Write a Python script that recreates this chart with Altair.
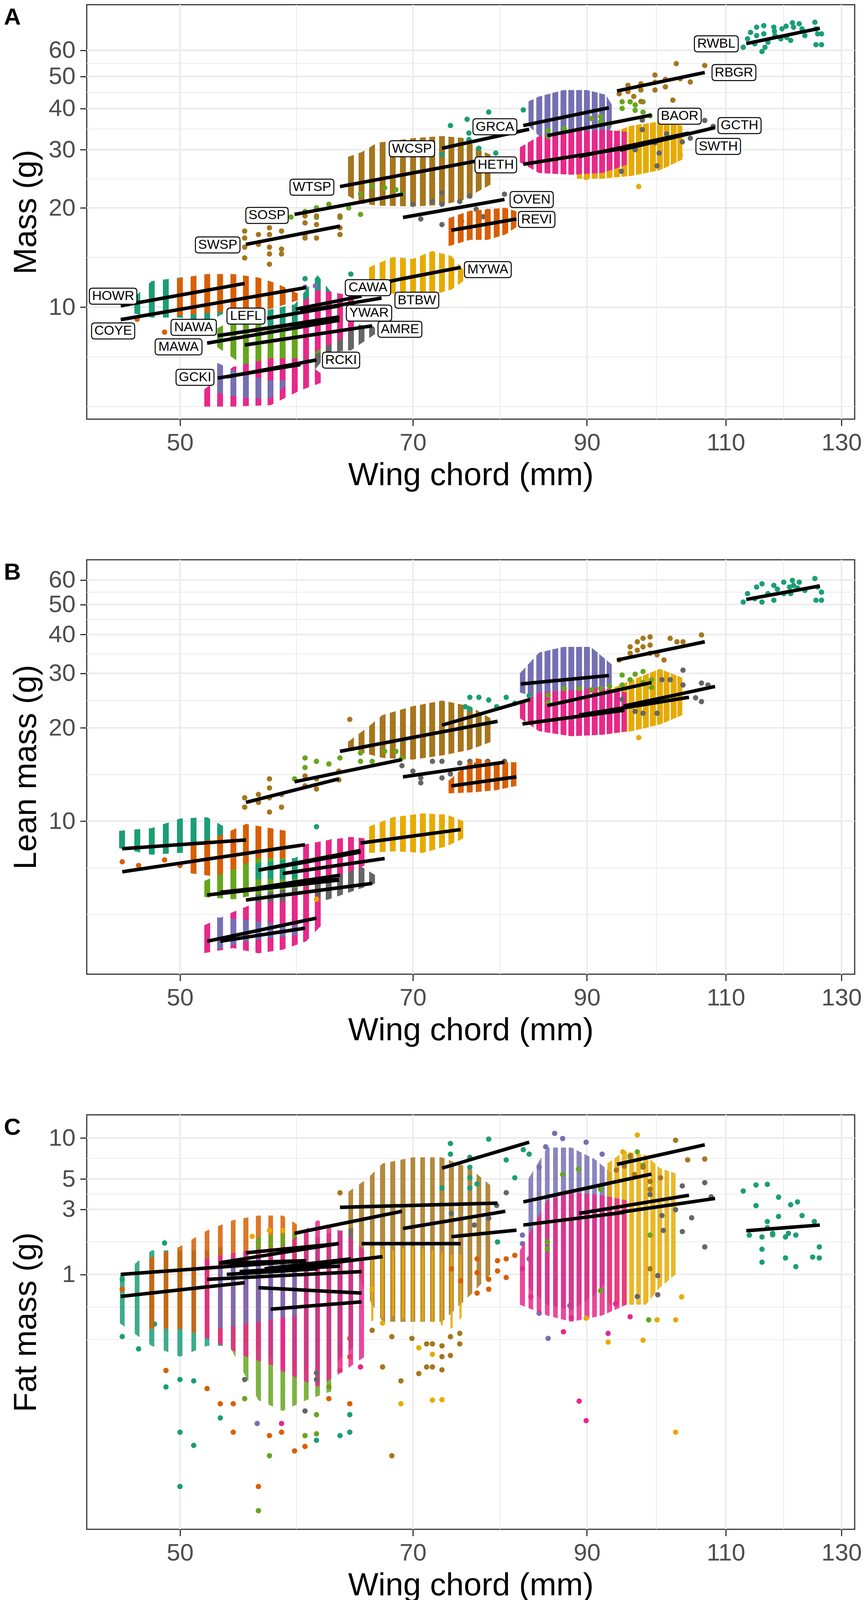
import math
import altair as alt
import pandas as pd

FONT = "Liberation Sans"
GRID = "#EBEBEB"
PALETTE = {"teal": "#1B9E77", "orange": "#D95F02", "purple": "#7570B3", "pink": "#E7298A",
           "green": "#66A61E", "yellow": "#E6AB02", "brown": "#A6761D", "grey": "#666666"}
SPECIES_COLOR = {
    "HOWR": "teal", "LEFL": "teal", "WCSP": "teal", "RWBL": "teal",
    "COYE": "orange", "REVI": "orange", "NAWA": "orange",
    "RCKI": "purple", "BTBW": "purple", "GRCA": "purple",
    "GCKI": "pink", "CAWA": "pink", "HETH": "pink",
    "MAWA": "green", "SOSP": "green", "BAOR": "green",
    "YWAR": "yellow", "MYWA": "yellow", "SWTH": "yellow",
    "SWSP": "brown", "WTSP": "brown", "RBGR": "brown",
    "AMRE": "grey", "OVEN": "grey", "GCTH": "grey",
}

X_DOMAIN = [43.7, 132.5]
X_TICKS = [50, 70, 90, 110, 130]
X_MINOR = [59.16, 79.37, 99.50, 119.58]
Y_TICKS_AB = [10, 20, 30, 40, 50, 60]
Y_MINOR_AB = [5, 7.07, 14.14, 24.49, 34.64, 44.72, 54.77]
Y_TICKS_C = [1, 3, 5, 10]
Y_MINOR_C = [0.333, 0.577, 1.732, 3.873, 7.071]
Y_DOMAIN_A = [4.58, 82.5]
Y_DOMAIN_B = [3.21, 69.7]
Y_DOMAIN_C = [0.0136, 14.75]

# ---------------- Panel A : total mass ----------------
# ("cols", species, wing chords spanned, lower masses, upper masses) -> dense columns of birds
# ("pts", species, [(wing, mass), ...]) -> individual birds
A_DRAW = [
    ("cols", "GRCA", [82.7, 84, 87, 90, 92.5, 93.3], [35.5, 33.0, 31.0, 31.5, 32.0, 35.5], [42.0, 43.5, 45.5, 45.5, 44.0, 41.0]),
    ("cols", "SWTH", [88.7, 92, 96, 100, 103.3], [24.5, 24.5, 25.0, 26.0, 28.0], [30.5, 33.0, 35.5, 36.5, 35.5]),
    ("cols", "HETH", [81.7, 84, 88, 92, 95.3], [27.5, 25.5, 25.2, 25.5, 27.0], [30.5, 33.0, 34.0, 34.5, 34.0]),
    ("pts", "SWTH", [(89.9, 24.7), (97.0, 23.2), (103.0, 28.9)]),
    ("pts", "BAOR", [(85.1, 34.4), (85.1, 32.9), (87.1, 34.8), (90.6, 37.3), (91.8, 37.8), (91.8, 36.5), (94.7, 41.9),
                     (94.7, 40.0), (95.8, 41.9), (96.5, 41.0), (97.6, 41.9), (97.6, 39.0), (96.5, 39.5), (98.6, 38.0), (93.0, 36.0)]),
    ("pts", "GCTH", [(94.6, 25.8), (97.5, 36.9), (97.5, 34.5), (99.6, 26.8), (99.9, 29.3), (99.3, 31.5), (103.3, 31.7),
                     (106.7, 36.8), (108.0, 35.3), (101.0, 33.5), (104.5, 32.5), (96.5, 30.0)]),
    ("pts", "RBGR", [(94.3, 44.3), (95.5, 47.0), (95.5, 45.0), (96.3, 43.5), (97.3, 47.5), (97.3, 45.5), (97.3, 42.0),
                     (99.3, 50.5), (99.3, 48.0), (99.3, 45.5), (100.8, 49.0), (100.8, 46.5), (101.9, 42.4), (102.4, 54.7),
                     (103.0, 49.2), (104.5, 48.1), (106.7, 54.0)]),
    ("pts", "RWBL", [(112.8, 61.3), (113.5, 65.0), (114.7, 62.8), (115.0, 70.5), (115.0, 66.5), (115.9, 59.5),
                     (116.2, 71.3), (116.2, 67.3), (116.4, 61.3), (116.9, 63.5), (117.9, 70.5), (118.1, 66.5),
                     (119.1, 65.0), (119.3, 69.7), (120.1, 65.7), (120.8, 64.3), (121.1, 72.7), (121.3, 70.5),
                     (122.3, 72.2), (122.8, 69.7), (123.3, 66.5), (125.1, 73.0), (125.3, 69.7), (125.6, 67.3),
                     (126.3, 67.3), (125.3, 62.4), (126.3, 62.4), (114.0, 68.0), (118.0, 68.5), (120.0, 71.0)]),
    ("cols", "WTSP", [63.7, 65, 66.5, 70, 73, 75.5, 77, 78.3], [21.8, 20.6, 20.3, 20.2, 20.4, 21.2, 22.5, 23.5],
     [28.5, 29.5, 31.5, 32.5, 33.0, 32.5, 30.0, 29.0]),
    ("pts", "WCSP", [(73.9, 35.5), (75.7, 37.1), (75.9, 33.7), (75.9, 32.2), (77.0, 30.3), (78.1, 39.0), (82.1, 39.6),
                     (78.9, 29.3), (73.0, 29.0)]),
    ("pts", "SOSP", [(58.7, 18.75), (59.9, 19.5), (60.9, 20.0), (60.9, 18.7), (62.0, 20.5), (63.0, 18.7), (63.8, 20.0),
                     (64.9, 22.0), (64.9, 19.1), (66.0, 23.2), (67.2, 23.0), (68.3, 22.7), (68.9, 22.0)]),
    ("pts", "OVEN", [(70.0, 20.5), (70.8, 18.5), (72.0, 20.9), (73.0, 22.2), (73.0, 20.5), (73.0, 17.8), (74.9, 20.9),
                     (75.1, 18.2), (76.0, 21.7), (76.7, 19.8), (78.0, 19.5), (79.9, 22.0), (77.5, 18.8)]),
    ("cols", "REVI", [73.7, 76, 78, 80, 81.3], [15.3, 16.0, 16.0, 16.6, 17.5], [18.6, 19.6, 19.8, 20.0, 19.5]),
    ("pts", "SWSP", [(54.9, 17.0), (54.9, 16.2), (54.9, 15.2), (54.9, 14.1), (56.0, 16.6), (56.0, 15.5), (56.9, 17.4),
                     (56.9, 16.6), (56.9, 15.2), (56.9, 14.5), (56.9, 13.5), (57.9, 17.0), (57.9, 15.0), (57.9, 14.5),
                     (59.9, 18.9), (59.9, 18.0), (59.9, 16.6), (59.9, 16.2), (60.9, 18.9), (60.9, 17.8), (60.9, 16.2),
                     (63.0, 18.9), (63.0, 17.4), (63.0, 16.6)]),
    ("cols", "MYWA", [65.7, 68, 70, 72, 74, 75.3], [11.0, 11.0, 11.0, 10.9, 11.3, 12.0], [13.2, 14.2, 14.0, 14.8, 14.3, 13.0]),
    ("cols", "HOWR", [46.7, 48, 50, 52, 53.3], [9.6, 9.3, 9.3, 9.0, 9.6], [10.6, 12.0, 12.3, 12.5, 12.3]),
    ("cols", "COYE", [49.7, 52, 54, 56, 57.5, 59.3], [9.4, 9.6, 9.7, 9.7, 10.0, 10.5], [12.2, 12.6, 12.6, 12.3, 11.8, 11.0]),
    ("pts", "COYE", [(45.9, 8.85), (47.0, 9.2), (48.9, 8.4)]),
    ("cols", "AMRE", [54.7, 57, 60, 62, 64, 66.3], [7.0, 6.3, 6.0, 7.3, 7.4, 8.3], [7.8, 8.8, 9.8, 10.0, 9.0, 8.6]),
    ("cols", "MAWA", [52.7, 55, 58, 61.3], [7.6, 6.6, 6.8, 7.3], [8.6, 9.6, 9.6, 9.4]),
    ("cols", "LEFL", [56.7, 59, 61, 63.3], [8.8, 8.6, 8.5, 8.6], [9.8, 10.2, 12.5, 10.0]),
    ("cols", "CAWA", [59.7, 61, 63, 64.3], [6.8, 7.4, 8.0, 8.6], [10.4, 11.3, 11.0, 10.8]),
    ("cols", "GCKI", [51.7, 54, 57, 59.5, 61.3], [5.0, 5.0, 5.05, 5.6, 5.9], [5.6, 6.6, 7.0, 7.0, 6.3]),
    ("cols", "RCKI", [52.7, 55, 57, 58.3], [5.5, 5.3, 5.3, 5.8], [6.8, 6.2, 6.0, 6.0]),
    ("pts", "BTBW", [(59.9, 11.5), (60.8, 11.6)]),
    ("pts", "LEFL", [(64.0, 12.6), (59.9, 12.2)]),
    ("pts", "AMRE", [(66.0, 8.6)]),
]
A_LINES = {
    "HOWR": (45.9, 10.1, 54.9, 11.8), "COYE": (45.9, 9.17, 60.0, 11.47), "MAWA": (52.0, 7.78, 62.95, 9.13),
    "NAWA": (52.8, 8.2, 62.0, 9.2), "YWAR": (55.5, 8.5, 62.95, 9.35), "LEFL": (56.7, 9.25, 63.0, 10.1),
    "CAWA": (59.1, 9.86, 65.0, 10.8), "BTBW": (59.5, 9.7, 66.9, 10.66), "AMRE": (54.9, 7.68, 66.0, 8.78),
    "GCKI": (52.8, 6.10, 59.5, 6.70), "RCKI": (53.5, 6.15, 60.9, 6.92), "SWSP": (55.0, 15.5, 63.0, 17.6),
    "SOSP": (59.0, 19.1, 69.0, 22.0), "WTSP": (63.0, 23.2, 77.0, 27.8), "WCSP": (73.0, 30.3, 82.8, 34.6),
    "OVEN": (69.0, 18.7, 79.9, 21.2), "REVI": (74.0, 17.1, 81.3, 18.5), "MYWA": (66.0, 11.7, 75.0, 13.2),
    "GRCA": (82.1, 35.5, 92.9, 40.2), "BAOR": (85.0, 33.1, 98.8, 38.2), "HETH": (82.1, 27.1, 95.0, 30.3),
    "SWTH": (89.0, 28.6, 104.3, 33.7), "GCTH": (94.4, 29.9, 108.3, 35.0), "RBGR": (94.0, 45.2, 106.7, 51.4),
    "RWBL": (113.3, 62.9, 126.0, 70.0),
}
A_LABELS = {
    "HOWR": (45.4, 10.8), "COYE": (45.4, 8.47), "NAWA": (51.0, 8.69), "MAWA": (49.9, 7.58), "LEFL": (55.0, 9.40),
    "GCKI": (51.1, 6.13), "RCKI": (63.1, 6.91), "CAWA": (65.6, 11.46), "BTBW": (70.4, 10.5), "YWAR": (65.7, 9.6),
    "AMRE": (68.7, 8.57), "SWSP": (52.8, 15.44), "SOSP": (56.7, 18.97), "WTSP": (60.5, 23.1), "WCSP": (69.9, 30.2),
    "HETH": (78.9, 27.0), "GRCA": (78.8, 35.2), "OVEN": (83.1, 21.2), "REVI": (83.7, 18.45), "MYWA": (78.0, 13.0),
    "RWBL": (108.5, 62.8), "RBGR": (111.3, 51.4), "BAOR": (102.9, 37.9), "GCTH": (112.2, 35.5), "SWTH": (108.8, 30.7),
}

# ---------------- Panel B : lean mass ----------------
B_DRAW = [
    ("cols", "GRCA", [81.7, 84, 87, 90.5, 93.3], [26.0, 25.0, 25.5, 26.0, 27.5], [30.0, 35.0, 36.5, 36.5, 32.0]),
    ("cols", "SWTH", [88.7, 92, 96, 100, 103.3], [19.0, 19.0, 19.5, 20.5, 22.0], [23.5, 26.0, 28.5, 31.0, 29.0]),
    ("cols", "HETH", [81.7, 84, 88, 92, 95.3], [21.5, 19.5, 18.8, 19.0, 19.5], [24.0, 26.0, 26.5, 27.0, 26.0]),
    ("pts", "BAOR", [(85.1, 24.1), (85.1, 25.5), (87.1, 26.8), (89.0, 26.8), (90.6, 26.5), (91.8, 26.8), (93.0, 27.2),
                     (94.7, 29.6), (94.7, 27.5), (95.8, 28.6), (96.5, 29.8), (97.6, 30.4), (97.6, 28.0), (98.8, 28.6), (98.8, 27.0)]),
    ("pts", "GCTH", [(94.7, 24.7), (96.5, 22.6), (97.6, 22.3), (99.6, 22.3), (100.3, 28.6), (101.5, 28.6), (103.4, 30.7),
                     (103.4, 27.5), (105.3, 25.0), (106.2, 27.9), (106.2, 24.3), (107.2, 27.5)]),
    ("pts", "SWTH", [(97.0, 18.6)]),
    ("pts", "RBGR", [(94.3, 33.1), (95.8, 36.5), (95.8, 34.8), (96.8, 37.9), (96.8, 35.6), (97.6, 38.9), (97.6, 36.5),
                     (98.6, 39.3), (98.6, 37.0), (98.6, 34.8), (99.6, 34.4), (100.6, 33.1), (101.5, 38.9), (102.5, 37.9),
                     (103.4, 37.9), (106.2, 39.9)]),
    ("pts", "RWBL", [(112.8, 50.9), (113.5, 54.2), (115.0, 56.9), (115.9, 58.3), (115.9, 50.9), (116.9, 54.2),
                     (117.9, 57.6), (119.6, 59.0), (119.6, 54.2), (120.6, 56.9), (121.1, 59.8), (121.3, 57.6),
                     (122.3, 59.0), (123.3, 55.5), (125.1, 60.6), (125.6, 56.9), (126.3, 54.8), (125.3, 51.6),
                     (126.3, 51.6), (114.7, 52.2), (120.8, 54.2), (117.9, 51.6), (118.5, 56.0), (122.0, 56.5)]),
    ("cols", "WTSP", [63.7, 65.5, 67, 70, 73, 76, 78.3], [17.0, 16.5, 16.0, 15.8, 16.3, 17.0, 18.0],
     [18.0, 20.0, 22.0, 23.5, 24.5, 23.5, 21.5]),
    ("pts", "WTSP", [(63.9, 21.3)]),
    ("pts", "WCSP", [(76.0, 25.1), (77.0, 25.1), (78.1, 24.6), (80.1, 25.1), (81.1, 24.0), (79.0, 23.4), (75.5, 23.4),
                     (82.8, 25.4), (76.0, 23.0)]),
    ("pts", "SOSP", [(59.0, 13.7), (59.9, 14.9), (59.9, 16.0), (60.9, 15.6), (62.0, 15.3), (63.0, 16.0), (64.9, 16.6),
                     (64.9, 15.6), (66.0, 15.6), (67.2, 16.8), (68.3, 16.8), (68.9, 16.0)]),
    ("pts", "OVEN", [(68.9, 15.1), (70.0, 14.5), (70.8, 13.8), (70.8, 13.3), (72.0, 15.6), (73.0, 13.8), (73.0, 15.6),
                     (73.9, 14.2), (74.9, 15.4), (76.0, 15.6), (76.7, 15.2), (78.0, 15.6), (79.9, 15.6), (77.0, 14.3)]),
    ("cols", "REVI", [73.7, 76.5, 79, 81.3], [12.3, 12.4, 12.6, 13.0], [13.5, 16.0, 15.5, 15.5]),
    ("pts", "SWSP", [(54.9, 11.9), (54.9, 11.1), (56.0, 11.5), (56.0, 12.2), (56.9, 13.7), (56.9, 12.8), (56.9, 11.9),
                     (56.9, 10.7), (57.9, 12.2), (57.9, 11.1), (59.9, 14.0), (59.9, 13.0), (60.9, 13.7), (60.9, 12.7),
                     (62.9, 14.5), (62.9, 13.6)]),
    ("cols", "MYWA", [65.7, 68, 71, 73.5, 75.3], [7.9, 8.0, 7.9, 8.3, 8.8], [9.6, 10.3, 10.6, 10.5, 10.0]),
    ("cols", "HOWR", [45.7, 48, 50, 52, 53.3], [8.2, 7.8, 7.9, 8.0, 8.4], [9.3, 9.5, 10.2, 10.3, 9.6]),
    ("cols", "COYE", [50.7, 53, 55, 57, 58.3], [6.8, 6.6, 6.9, 7.3, 7.6], [8.3, 9.0, 9.8, 9.5, 9.3]),
    ("pts", "COYE", [(46.0, 7.4), (47.1, 7.2), (48.9, 7.5), (50.0, 7.2)]),
    ("cols", "AMRE", [55.7, 59, 62, 64.5, 66.3], [5.4, 5.3, 5.6, 6.0, 6.3], [6.5, 7.0, 7.0, 7.3, 6.7]),
    ("cols", "MAWA", [51.7, 54, 56, 58, 60.3], [5.7, 5.6, 5.8, 6.0, 6.2], [6.4, 7.0, 7.6, 7.6, 7.6]),
    ("cols", "LEFL", [55.7, 59, 62.3], [6.5, 6.5, 6.9], [7.3, 7.6, 8.8]),
    ("pts", "LEFL", [(60.9, 9.6)]),
    ("cols", "CAWA", [59.7, 62, 64, 65.3], [6.5, 6.6, 6.9, 7.2], [8.4, 8.7, 8.9, 8.8]),
    ("cols", "GCKI", [51.7, 54, 56, 58, 60, 61.3], [3.75, 3.9, 3.75, 3.85, 4.1, 4.6], [4.6, 5.1, 5.5, 5.5, 6.2, 5.6]),
    ("cols", "RCKI", [52.7, 55, 57, 59.3], [3.85, 4.1, 4.2, 4.3], [4.9, 4.8, 4.7, 4.6]),
    ("pts", "YWAR", [(60.9, 5.6)]),
]
B_LINES = {
    "HOWR": (46.0, 8.15, 55.0, 8.7), "COYE": (46.0, 6.87, 59.9, 8.4), "SWSP": (55.0, 11.5, 62.9, 13.7),
    "SOSP": (59.0, 13.4, 68.9, 15.8), "WTSP": (63.0, 16.8, 79.1, 21.0), "OVEN": (69.0, 13.9, 79.9, 15.5),
    "REVI": (74.0, 13.0, 81.3, 13.9), "MYWA": (64.9, 8.5, 75.0, 9.4), "WCSP": (73.0, 20.4, 82.9, 24.7),
    "GRCA": (81.8, 27.7, 92.9, 29.5), "BAOR": (85.0, 23.6, 98.8, 28.0), "HETH": (82.0, 20.6, 95.0, 22.8),
    "SWTH": (89.0, 22.0, 104.3, 25.1), "GCTH": (94.9, 23.5, 108.3, 27.2), "RBGR": (94.0, 33.1, 106.7, 37.9),
    "RWBL": (113.3, 51.9, 126.0, 57.4), "LEFL": (56.0, 6.95, 64.9, 8.05), "CAWA": (56.9, 7.03, 64.9, 7.95),
    "BTBW": (58.0, 6.78, 67.2, 7.58), "MAWA": (52.0, 5.78, 62.9, 6.46), "NAWA": (53.0, 5.9, 62.9, 6.5),
    "YWAR": (56.0, 6.1, 63.0, 6.7), "AMRE": (55.0, 5.57, 66.0, 6.3), "GCKI": (53.0, 4.10, 59.9, 4.52),
    "RCKI": (52.0, 4.10, 60.9, 4.87),
}

# ---------------- Panel C : fat mass ----------------
C_DRAW = [
    ("pts", "RWBL", [(112.8, 4.08), (114.9, 4.52), (116.8, 4.57), (118.7, 3.68), (120.8, 3.24), (122.0, 3.4),
                     (114.9, 3.19), (116.8, 2.44), (118.7, 2.66), (122.8, 2.7), (125.0, 2.44), (113.8, 1.94),
                     (115.9, 1.88), (117.7, 2.0), (119.9, 1.88), (121.7, 1.94), (115.9, 1.53), (115.9, 1.23),
                     (119.9, 1.32), (121.7, 1.14), (124.7, 1.34), (125.9, 1.59), (125.9, 1.32), (117.7, 1.95),
                     (120.4, 2.0), (116.8, 2.2)]),
    ("cols", "GRCA", [82.7, 85, 88, 91, 93.3], [0.8, 0.6, 0.55, 0.7, 1.0], [5.0, 8.5, 8.5, 7.0, 5.5]),
    ("pts", "GRCA", [(85.9, 10.8), (86.9, 9.9), (89.9, 9.3), (92.0, 7.6), (84.0, 0.52), (85.1, 0.34), (87.8, 0.59),
                     (82.0, 1.68), (82.0, 1.94), (82.8, 1.3), (84.0, 6.1), (84.8, 8.6)]),
    ("cols", "SWTH", [92.7, 95, 98, 100, 102.3], [0.6, 0.6, 0.6, 0.8, 1.0], [6.5, 8.0, 7.5, 6.0, 5.5]),
    ("cols", "HETH", [81.7, 85, 88, 92, 95.3], [0.6, 0.5, 0.45, 0.5, 0.6], [1.5, 3.5, 4.0, 3.8, 3.5]),
    ("pts", "HETH", [(89.0, 0.118), (89.9, 0.085), (87.0, 0.38), (88.0, 0.48), (83.0, 0.686), (92.8, 0.37),
                     (95.8, 0.49), (93.8, 0.61), (82.0, 1.1)]),
    ("pts", "SWTH", [(102.3, 0.070), (89.9, 0.478), (92.8, 0.32), (97.6, 0.33), (102.3, 0.465), (103.2, 0.686),
                     (99.6, 0.465), (96.8, 10.5), (94.8, 7.9)]),
    ("pts", "BAOR", [(96.8, 7.9), (95.8, 7.2), (97.6, 6.3), (86.9, 5.4), (88.9, 5.9), (91.8, 4.2), (85.0, 1.54),
                     (85.0, 1.73), (91.8, 0.76), (98.6, 1.94), (98.4, 0.465)]),
    ("pts", "GCTH", [(106.7, 4.7), (107.7, 3.7), (103.3, 4.45), (100.3, 2.7), (100.5, 2.1), (98.6, 3.85),
                     (103.3, 2.06), (106.7, 1.59), (99.7, 0.98), (99.7, 0.71), (96.8, 0.69), (102.3, 2.98), (104.7, 2.6)]),
    ("pts", "RBGR", [(93.9, 5.81), (95.8, 7.4), (97.6, 6.1), (98.6, 4.8), (98.6, 4.2), (102.3, 9.6), (104.1, 6.9),
                     (106.7, 7.0), (98.6, 1.1), (100.1, 5.1), (95.0, 6.2), (96.4, 5.4)]),
    ("cols", "WTSP", [63.7, 65.5, 67, 70, 73, 76, 78.3], [1.5, 0.7, 0.45, 0.45, 0.45, 0.7, 1.0], [4.0, 5.0, 6.5, 7.2, 7.2, 6.0, 4.5]),
    ("pts", "WTSP", [(67.0, 0.21), (67.9, 0.047), (68.8, 0.166), (70.6, 0.188), (71.4, 0.21), (72.0, 0.21), (69.9, 0.34),
                     (71.4, 0.31), (73.0, 0.30), (67.9, 0.35), (66.0, 0.39), (72.0, 0.31), (73.0, 0.25), (73.9, 0.255),
                     (74.9, 0.31), (73.0, 0.2), (73.9, 0.35), (74.9, 0.37), (63.0, 3.96)]),
    ("cols", "MYWA", [65.7, 68, 70, 72, 74, 75.3], [0.45, 0.5, 0.45, 0.45, 0.4, 0.5], [1.6, 1.5, 1.6, 1.5, 1.4, 1.4]),
    ("pts", "MYWA", [(68.8, 0.113), (72.0, 0.12), (70.6, 0.29), (72.0, 0.26), (66.0, 0.78), (67.0, 0.44), (73.0, 0.121)]),
    ("pts", "WCSP", [(73.9, 9.1), (73.9, 7.6), (78.1, 9.8), (80.1, 6.9), (81.1, 5.1), (82.1, 8.2), (82.8, 7.6), (76.0, 7.2),
                     (76.0, 6.1), (76.0, 5.1), (76.8, 4.6), (76.0, 4.3), (73.0, 4.3), (79.1, 1.73)]),
    ("pts", "OVEN", [(78.1, 2.58), (80.1, 3.97), (79.0, 3.2), (76.5, 2.3), (74.0, 2.8)]),
    ("pts", "REVI", [(76.8, 1.3), (76.8, 1.03), (76.8, 0.73), (78.1, 0.92), (78.1, 0.78), (79.1, 1.26), (79.1, 1.06),
                     (80.1, 1.3), (80.1, 0.95), (81.1, 1.38), (74.0, 1.1), (75.0, 0.9)]),
    ("cols", "HOWR", [45.7, 48, 50, 52, 53.3], [0.45, 0.3, 0.25, 0.3, 0.3], [0.95, 1.5, 1.5, 1.5, 1.6]),
    ("pts", "HOWR", [(46.0, 0.92), (46.0, 0.351), (47.1, 0.285), (48.2, 0.433), (49.0, 0.150), (50.0, 0.170),
                     (51.0, 0.166), (50.0, 0.070), (51.0, 0.056), (53.0, 0.089), (48.9, 1.70), (50.0, 0.028)]),
    ("cols", "COYE", [47.7, 50, 52, 54, 56, 58, 59.3], [0.4, 0.4, 0.35, 0.3, 0.35, 0.4, 0.45], [1.3, 1.6, 2.1, 2.5, 2.7, 2.7, 2.3]),
    ("pts", "COYE", [(49.0, 0.198), (52.0, 0.146), (53.0, 0.113), (54.0, 0.113), (54.0, 0.070), (56.9, 0.066),
                     (57.9, 0.07), (59.0, 0.051), (62.0, 0.15), (62.0, 0.123), (63.9, 0.34), (63.9, 0.25), (63.9, 0.113),
                     (63.0, 0.28), (63.0, 0.198), (56.0, 0.028), (46.0, 0.78), (59.9, 0.055)]),
    ("cols", "AMRE", [55.7, 59, 62, 64.3], [0.3, 0.2, 0.2, 0.3], [1.2, 1.6, 2.0, 2.2]),
    ("cols", "MAWA", [53.7, 56, 58, 60, 62.3], [0.3, 0.12, 0.1, 0.12, 0.14], [1.0, 1.9, 2.0, 2.0, 1.7]),
    ("pts", "MAWA", [(56.0, 0.0186), (56.9, 0.047), (54.9, 0.123), (59.9, 0.066), (60.9, 0.094), (60.9, 0.068)]),
    ("cols", "LEFL", [56.7, 60, 63, 64.3], [0.25, 0.22, 0.25, 0.3], [1.0, 1.4, 2.0, 1.8]),
    ("pts", "LEFL", [(63.9, 0.070), (63.0, 0.066), (63.9, 0.094), (60.9, 0.061)]),
    ("cols", "CAWA", [57.7, 61, 63.5, 65.3], [0.2, 0.15, 0.2, 0.25], [1.5, 2.5, 2.0, 1.5]),
    ("cols", "GCKI", [51.7, 55, 58.3], [0.35, 0.25, 0.2], [1.3, 1.5, 1.6]),
    ("cols", "RCKI", [52.7, 56, 59.3], [0.4, 0.45, 0.5], [1.1, 1.3, 1.2]),
    ("pts", "RCKI", [(55.9, 0.081)]),
    ("pts", "GCKI", [(57.9, 0.081), (64.9, 0.21)]),
    ("pts", "AMRE", [(54.9, 0.17), (59.9, 0.10), (60.9, 0.19), (60.9, 0.17)]),
    ("pts", "YWAR", [(56.9, 2.1), (58.0, 2.1), (55.5, 1.9)]),
]
C_LINES = {
    "COYE": (45.9, 1.0, 60.0, 1.26), "HOWR": (45.9, 0.69, 54.9, 0.87), "MAWA": (52.0, 0.92, 65.0, 1.05),
    "NAWA": (52.9, 1.21, 59.9, 1.26), "LEFL": (53.0, 1.22, 62.8, 1.68), "SWSP": (55.0, 1.44, 62.9, 1.68),
    "CAWA": (56.5, 1.1, 64.0, 1.3), "BTBW": (58.0, 1.1, 67.0, 1.35), "YWAR": (54.5, 1.05, 63.0, 1.15),
    "AMRE": (56.0, 0.80, 65.0, 0.73), "GCKI": (57.0, 0.557, 65.0, 0.63), "RCKI": (53.5, 1.0, 61.0, 1.1),
    "SOSP": (59.0, 2.0, 68.9, 2.9), "WTSP": (63.0, 3.1, 79.1, 3.33), "MYWA": (65.0, 1.68, 75.0, 1.68),
    "OVEN": (69.0, 2.17, 80.0, 2.9), "REVI": (74.0, 1.89, 81.3, 2.11), "WCSP": (73.0, 6.0, 82.8, 9.3),
    "GRCA": (82.1, 3.4, 92.9, 4.65), "BAOR": (85.0, 3.72, 98.8, 5.43), "RBGR": (94.0, 6.4, 106.7, 8.9),
    "HETH": (82.1, 2.3, 95.0, 2.85), "SWTH": (89.0, 2.8, 104.3, 3.8), "GCTH": (94.4, 2.85, 108.3, 3.6),
    "RWBL": (113.3, 2.09, 126.0, 2.3),
}

# ---------------- helpers / styling ----------------
W, H = 1966, 1061
SPACING = 170
DOT_BY_PANEL = {"A": 15.0, "B": 15.0, "C": 12.5}
NARROW_COLUMNS = {("C", "MYWA"): 6.0}   # species whose dots sit inside another species' columns
PX_PER_LN = W / math.log(X_DOMAIN[1] / X_DOMAIN[0])
TRANSP = "rgba(255,255,255,0)"
LABEL_FS = 34
CHAR_W = {"A": 667, "B": 667, "C": 722, "E": 667, "G": 778, "H": 722, "I": 278, "K": 667, "L": 556, "M": 833,
          "N": 722, "O": 778, "P": 667, "R": 722, "S": 667, "T": 611, "V": 667, "W": 944, "Y": 667}
UNIT = 50.0  # symbol size 10000 -> 50 px per path unit


def column_fill(xs, color, dot):
    """Striped fill: one dot-wide stripe at every whole millimetre of wing chord."""
    l0, l1 = math.log(xs[0]), math.log(xs[-1])
    span = (l1 - l0) * PX_PER_LN
    half = dot / 2.0 / span
    iv = []
    for m in range(math.ceil(xs[0]), math.floor(xs[-1]) + 1):
        t = (math.log(m) - l0) / (l1 - l0)
        a, b = max(0.0, t - half), min(1.0, t + half)
        if iv and a <= iv[-1][1]:
            iv[-1][1] = b
        else:
            iv.append([a, b])
    stops = [alt.GradientStop(offset=0, color=TRANSP)]
    for a, b in iv:
        stops += [alt.GradientStop(offset=round(a, 5), color=TRANSP), alt.GradientStop(offset=round(a, 5), color=color),
                  alt.GradientStop(offset=round(b, 5), color=color), alt.GradientStop(offset=round(b, 5), color=TRANSP)]
    stops.append(alt.GradientStop(offset=1, color=TRANSP))
    return alt.Gradient(gradient="linear", x1=0, x2=1, y1=0, y2=0, stops=stops)


def box_path(name):
    w = sum(CHAR_W.get(c, 667) for c in name) * LABEL_FS / 1000.0 + 14
    hw, hh, r = w / 2 / UNIT, 20.5 / UNIT, 8 / UNIT
    return (f"M{-hw + r:.3f},{-hh:.3f}L{hw - r:.3f},{-hh:.3f}Q{hw:.3f},{-hh:.3f} {hw:.3f},{-hh + r:.3f}"
            f"L{hw:.3f},{hh - r:.3f}Q{hw:.3f},{hh:.3f} {hw - r:.3f},{hh:.3f}L{-hw + r:.3f},{hh:.3f}"
            f"Q{-hw:.3f},{hh:.3f} {-hw:.3f},{hh - r:.3f}L{-hw:.3f},{-hh + r:.3f}Q{-hw:.3f},{-hh:.3f} {-hw + r:.3f},{-hh:.3f}Z")


def make_panel(letter, ytitle, ydomain, yticks, yminor, draw, lines, labels, col_opacity):
    xsc = alt.Scale(type="log", domain=X_DOMAIN, nice=False)
    ysc = alt.Scale(type="log", domain=ydomain, nice=False)
    common = dict(grid=False, domain=False, tickSize=17, tickWidth=3, tickColor="#333333", labelFontSize=62,
                  labelColor="#4D4D4D", labelFont=FONT, titleFont=FONT, titleFontSize=82, titleFontWeight="normal",
                  titleColor="#000000", labelFlush=False, labelOverlap=False, format=".0f")
    xaxis = alt.Axis(values=X_TICKS, title="Wing chord (mm)", labelPadding=13, titlePadding=12, **common)
    yaxis = alt.Axis(values=yticks, title=ytitle, labelPadding=12, titlePadding=16, **common)
    X = alt.X("x:Q", scale=xsc, axis=xaxis)
    Y = alt.Y("y:Q", scale=ysc, axis=yaxis)

    layers = [
        alt.Chart(pd.DataFrame({"x": X_MINOR})).mark_rule(color=GRID, strokeWidth=2).encode(x=X),
        alt.Chart(pd.DataFrame({"y": yminor})).mark_rule(color=GRID, strokeWidth=2).encode(y=Y),
        alt.Chart(pd.DataFrame({"x": X_TICKS})).mark_rule(color=GRID, strokeWidth=4).encode(x=X),
        alt.Chart(pd.DataFrame({"y": yticks})).mark_rule(color=GRID, strokeWidth=4).encode(y=Y),
    ]
    for item in draw:
        kind, sp = item[0], item[1]
        col = PALETTE[SPECIES_COLOR[sp]]
        if kind == "cols":
            dot = NARROW_COLUMNS.get((letter, sp), DOT_BY_PANEL[letter])
            df = pd.DataFrame({"x": item[2], "y": item[3], "y2": item[4]})
            layers.append(alt.Chart(df).mark_area(color=column_fill(item[2], col, dot), opacity=col_opacity,
                                                  clip=True, interpolate="linear")
                          .encode(x=X, y=Y, y2=alt.Y2("y2:Q")))
        else:
            df = pd.DataFrame({"x": [p[0] for p in item[2]], "y": [p[1] for p in item[2]]})
            layers.append(alt.Chart(df).mark_circle(color=col, size=190, opacity=1, clip=True).encode(x=X, y=Y))

    rows = []
    for sp, (x0, y0, x1, y1) in lines.items():
        rows.append({"sp": sp, "x": x0, "y": y0})
        rows.append({"sp": sp, "x": x1, "y": y1})
    layers.append(alt.Chart(pd.DataFrame(rows)).mark_line(color="black", strokeWidth=9, clip=True)
                  .encode(x=X, y=Y, detail="sp:N"))

    if labels:
        ldf = pd.DataFrame({"sp": list(labels.keys()),
                            "x": [v[0] for v in labels.values()],
                            "y": [v[1] for v in labels.values()]})
        ldf["path"] = ldf["sp"].map(box_path)
        layers.append(alt.Chart(ldf).mark_point(filled=True, fill="white", stroke="black", strokeWidth=2.5,
                                                size=10000, opacity=1)
                      .encode(x=X, y=Y, shape=alt.Shape("path:N", scale=None)))
        layers.append(alt.Chart(ldf).mark_text(font=FONT, fontSize=LABEL_FS, color="black", align="center",
                                               baseline="middle")
                      .encode(x=X, y=Y, text="sp:N"))

    layers.append(alt.Chart(pd.DataFrame({"t": [letter]}))
                  .mark_text(align="left", baseline="alphabetic", font=FONT, fontSize=60, fontWeight="bold",
                             color="black")
                  .encode(x=alt.value(-212), y=alt.value(51), text="t:N"))
    return alt.layer(*layers).properties(width=W, height=H)


pA = make_panel("A", "Mass (g)", Y_DOMAIN_A, Y_TICKS_AB, Y_MINOR_AB, A_DRAW, A_LINES, A_LABELS, 1.0)
pB = make_panel("B", "Lean mass (g)", Y_DOMAIN_B, Y_TICKS_AB, Y_MINOR_AB, B_DRAW, B_LINES, None, 1.0)
pC = make_panel("C", "Fat mass (g)", Y_DOMAIN_C, Y_TICKS_C, Y_MINOR_C, C_DRAW, C_LINES, None, 0.85)

chart = (alt.vconcat(pA, pB, pC, spacing=SPACING)
         .properties(padding=0)
         .configure(background="white")
         .configure_view(stroke="#333333", strokeWidth=3))

chart.save("out.html", embed_options={"renderer": "svg", "actions": False})
